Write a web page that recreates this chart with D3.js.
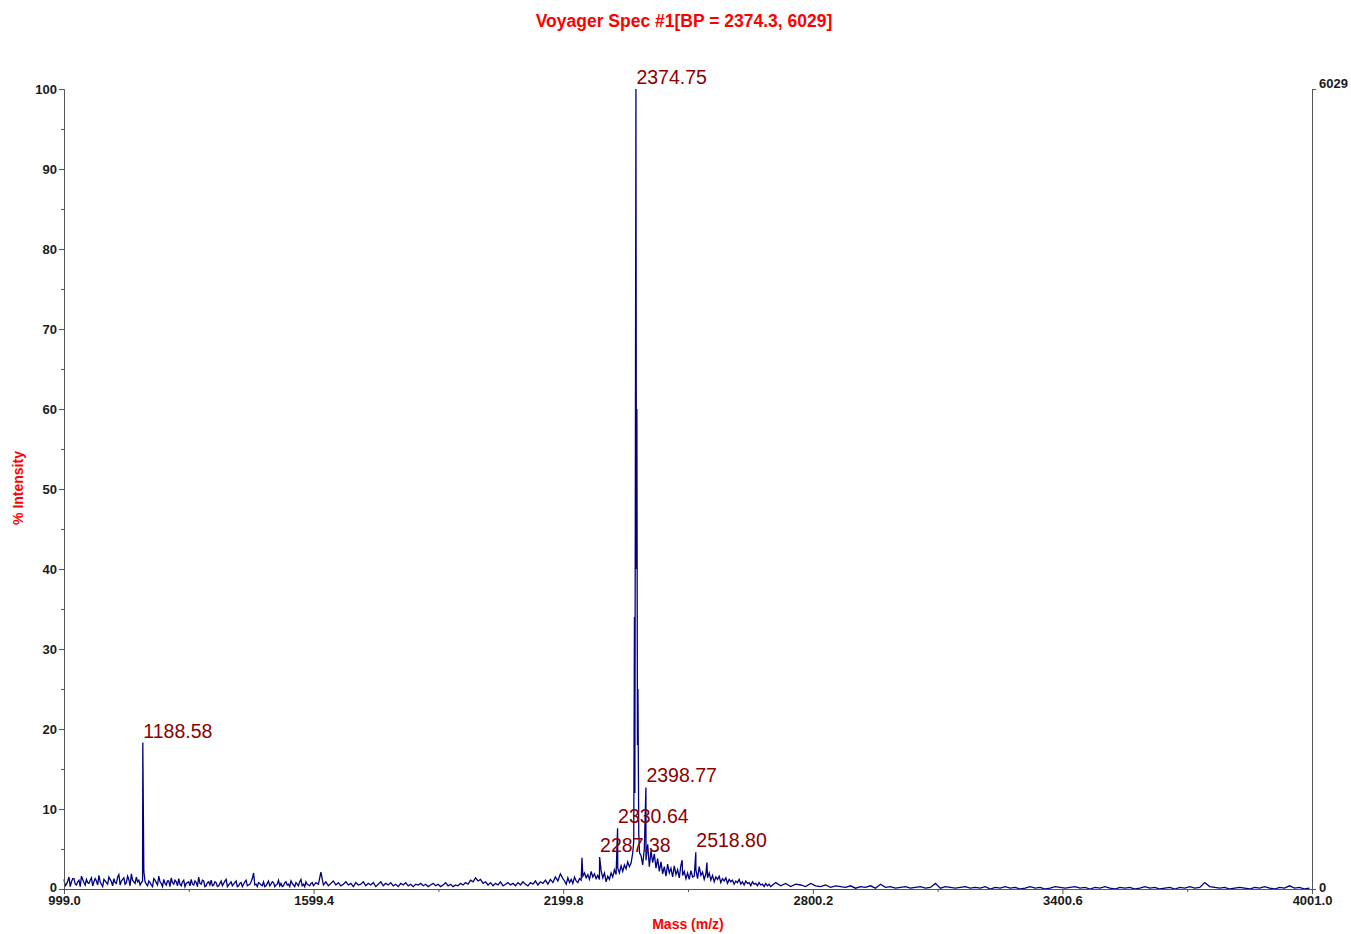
<!DOCTYPE html>
<html>
<head>
<meta charset="utf-8">
<script src="https://cdn.jsdelivr.net/npm/d3@7"></script>
<style>
  body { margin: 0; background: #fff; }
  svg { display: block; font-family: "Liberation Sans", Arial, sans-serif; }
</style>
</head>
<body>
<script>
// title and axis texts
var title = "Voyager Spec #1[BP = 2374.3, 6029]";
var xTitle = "Mass (m/z)";
var yTitle = "% Intensity";

// axis ticks
var xTicks = [999.0, 1599.4, 2199.8, 2800.2, 3400.6, 4001.0];
var xMinorTicks = [1299.2, 1899.6, 2500.0, 3100.4, 3700.8];
var yTicks = [0, 10, 20, 30, 40, 50, 60, 70, 80, 90, 100];
var yMinorTicks = [5, 15, 25, 35, 45, 55, 65, 75, 85, 95];
var countsTicks = [0, 6029];

var noiseAStart = 999, noiseAStep = 6;
var noiseA = [
  1.2, 0.6, 1.5, 0.9, 1.3, 0.5, 1.1, 1.6, 0.8, 1.2,
  0.7, 1.4, 0.9, 1.0, 1.7, 0.6, 1.2, 0.8, 1.5, 0.9,
  1.3, 0.7, 1.8, 1.0, 1.4, 0.8, 1.2, 1.9, 0.9, 1.5,
  1.1, 0.8, 2.2, 0.6, 1.0, 0.5, 1.3, 0.8, 1.6, 0.7,
  1.2, 0.5, 1.0, 1.4, 0.6, 0.9, 1.3, 0.4, 1.1, 0.7,
  0.9, 1.2, 0.5, 0.8, 1.5, 0.6, 1.0, 0.4, 0.9, 1.1,
  0.5, 0.8, 0.4, 1.0, 0.7, 1.2, 0.5, 0.9, 0.6, 1.0,
  0.4, 0.8, 0.6, 1.1, 0.5, 0.9, 2.0, 0.6, 0.8, 0.5,
  0.9, 0.4, 1.0, 0.6, 0.8, 0.5, 1.1, 0.7, 0.4, 0.9,
  0.6, 1.0, 0.5, 0.8, 0.4, 1.2, 0.6, 0.9, 0.5, 0.7,
  0.4, 0.8, 0.6, 2.1, 0.5, 0.9, 0.4, 0.7, 1.0, 0.5,
  0.8, 0.4, 0.6, 0.9, 0.5, 0.7, 0.3, 0.8, 0.5, 0.6,
  0.9, 0.4, 0.7, 0.5, 0.8, 0.3, 0.6, 0.9, 0.4, 0.7,
  0.5, 0.8, 0.4, 0.6, 0.3, 0.7, 0.5, 0.8, 0.4, 0.6,
  0.3, 0.6, 0.5, 0.7, 0.4, 0.6, 0.3, 0.5, 0.7, 0.4,
  0.6, 0.3, 0.5, 0.8, 0.4, 0.6, 0.3, 0.5, 0.4, 0.7,
  0.5, 0.8, 0.6, 1.1, 0.9, 1.4, 1.0, 1.2, 0.7, 0.9,
  0.5, 0.8, 0.4, 0.7, 0.5, 0.9, 0.4, 0.6, 0.8, 0.5,
  0.7, 0.4, 0.8, 0.5, 0.9, 0.6, 0.4, 0.8, 0.6, 1.0,
  0.5, 0.9, 0.7, 1.1, 0.6, 1.2, 0.8, 1.5, 1.0, 1.9, 1.3
];
// in-between samples for the densest part of the baseline
var noiseA2Start = 1002, noiseA2Step = 6;
var noiseA2 = [
  0.4, 1.0, 0.3, 1.3, 0.6, 0.9, 0.3, 1.2, 0.5, 0.8,
  1.1, 0.4, 1.3, 0.5, 0.9, 0.3, 1.0, 0.6, 1.2, 0.4,
  0.8, 1.5, 0.5, 1.2, 0.6, 1.6, 0.4, 1.1, 0.7, 0.9,
  0.5, 1.0, 0.9, 0.4, 0.8, 0.3, 1.1, 0.5, 0.9, 0.3,
  0.7, 1.0, 0.3, 0.8, 1.1, 0.4, 0.6, 0.9, 0.3, 0.8,
  0.4, 0.6, 1.0, 0.3, 0.7, 1.1, 0.3, 0.8, 0.5, 0.4,
  0.9, 0.3, 0.7, 0.4, 1.0, 0.3, 0.7, 0.4, 0.8, 0.3,
  0.7, 0.3, 0.9, 0.4, 0.6, 1.3, 0.5, 0.3, 0.7, 0.4,
  0.3, 0.7, 0.4, 0.9, 0.3, 0.6, 0.4, 0.3, 0.8, 0.5,
  0.3, 0.7, 0.3, 0.6, 0.9, 0.4, 0.3, 0.6, 0.4, 0.8
];
var noiseBStart = 2203, noiseBStep = 4;
var noiseB = [
  1.0, 0.6, 1.4, 0.8, 1.2, 0.7, 1.5, 1.0, 0.8, 1.3,
  1.1, 1.6, 2.0, 1.4, 1.8, 1.2, 2.2, 1.5, 1.9, 1.3,
  1.7, 1.2, 2.3, 1.4, 2.0, 0.9, 1.6, 1.2, 2.0, 1.5,
  2.4, 1.8, 2.6, 2.0, 2.9, 2.2, 3.0, 2.5, 3.4, 2.8,
  3.2, 4.5
];
var noiseCStart = 2387, noiseCStep = 4;
var noiseC = [
  4.2, 3.0, 5.1, 3.6, 5.6, 2.8, 4.8, 3.3, 4.4, 2.6,
  3.8, 2.2, 3.4, 1.9, 2.8, 1.6, 3.1, 2.0, 2.6, 1.5,
  2.9, 1.8, 2.4, 1.4, 3.0, 1.7, 2.2, 1.3, 2.0, 1.2,
  2.3, 1.5, 1.6, 2.4, 1.3, 2.8, 1.7, 2.1, 1.2, 1.9,
  1.4, 2.0, 1.1, 1.7, 0.9, 1.5, 1.2, 1.6, 0.8, 1.3,
  1.0, 1.4, 0.7, 1.2, 0.9, 1.1, 0.6, 1.0, 0.8, 1.2,
  0.6, 0.9, 0.5, 1.0, 0.7, 0.8, 0.4, 0.9, 0.6, 0.7,
  0.4, 0.8, 0.5, 0.6, 0.3, 0.7, 0.4, 0.6, 0.3
];
var noiseDStart = 2711, noiseDStep = 12;
var noiseD = [
  0.8, 0.4, 0.7, 0.3, 0.6, 0.5, 0.3, 0.7, 0.4, 0.3,
  0.5, 0.2, 0.4, 0.3, 0.2, 0.4, 0.1, 0.3, 0.2, 0.4,
  0.1, 0.6, 0.2, 0.3, 0.1, 0.2, 0.3, 0.1, 0.2, 0.3,
  0.1, 0.2, 0.7, 0.1, 0.3, 0.2, 0.1, 0.2, 0.3, 0.1,
  0.2, 0.1, 0.3, 0.0, 0.2, 0.1, 0.3, 0.1, 0.2, 0.0,
  0.1, 0.3, 0.1, 0.2, 0.0, 0.1, 0.3, 0.2, 0.1, 0.2,
  0.3, 0.1, 0.2, 0.0, 0.2, 0.1, 0.3, 0.1, 0.0, 0.2,
  0.1, 0.2, 0.0, 0.1, 0.3, 0.1, 0.2, 0.0, 0.1, 0.2,
  0.0, 0.2, 0.1, 0.3, 0.1, 0.2, 0.8, 0.3, 0.2, 0.1,
  0.2, 0.0, 0.1, 0.2, 0.1, 0.0, 0.2, 0.1, 0.3, 0.1,
  0.0, 0.2, 0.1, 0.4, 0.1, 0.2, 0.0, 0.1
];

// peaks: [m/z, % intensity]
var peaks = [
  [1188.58, 18.3],
  [2245.0, 3.9],
  [2287.38, 4.0],
  [2330.64, 7.6],
  [2369.5, 6.0],
  [2371.2, 34.0],
  [2372.2, 12.0],
  [2374.75, 100.0],
  [2376.0, 40.0],
  [2377.0, 60.0],
  [2378.4, 18.0],
  [2379.6, 25.0],
  [2381.5, 7.0],
  [2383.5, 4.5],
  [2398.77, 12.7],
  [2486.0, 3.6],
  [2518.80, 4.6],
  [2545.5, 3.3]
];
var labeledPeaks = [1188.58, 2287.38, 2330.64, 2374.75, 2398.77, 2518.80];

var W = 1351, H = 934;
var x = d3.scaleLinear().domain([999.0, 4001.0]).range([64, 1312]);
var y = d3.scaleLinear().domain([0, 100]).range([889, 89]);
var yCounts = d3.scaleLinear().domain([0, 6029]).range([889, 89]);

var svg = d3.select("body").append("svg").attr("width", W).attr("height", H);

// assemble the trace
var spectrum = [];
function addNoise(start, step, vals) {
  vals.forEach(function(v, i) { spectrum.push([start + i * step, v]); });
}
addNoise(noiseAStart, noiseAStep, noiseA);
addNoise(noiseA2Start, noiseA2Step, noiseA2);
addNoise(noiseBStart, noiseBStep, noiseB);
addNoise(noiseCStart, noiseCStep, noiseC);
addNoise(noiseDStart, noiseDStep, noiseD);
peaks.forEach(function(p) { spectrum.push(p); });
spectrum.sort(function(a, b) { return a[0] - b[0]; });

var line = d3.line()
  .x(function(d) { return x(d[0]); })
  .y(function(d) { return y(d[1]); });

svg.append("path")
  .datum(spectrum)
  .attr("d", line)
  .attr("fill", "none")
  .attr("stroke", "#000080")
  .attr("stroke-width", 1.3)
  .attr("stroke-linejoin", "miter");

// axes
function styleAxis(g) {
  g.selectAll("path, line").attr("stroke", "#555");
  g.selectAll("text")
    .attr("fill", "#1a1a1a")
    .attr("font-size", "13px")
    .attr("font-weight", "bold")
    .attr("font-family", "Liberation Sans, Arial, sans-serif");
}

var gx = svg.append("g").attr("transform", "translate(0,889)")
  .call(d3.axisBottom(x).tickValues(xTicks).tickFormat(d3.format(".1f"))
    .tickSize(5).tickSizeOuter(0).tickPadding(2));
styleAxis(gx);
var gxm = svg.append("g").attr("transform", "translate(0,889)")
  .call(d3.axisBottom(x).tickValues(xMinorTicks).tickFormat("").tickSize(3).tickSizeOuter(0));
styleAxis(gxm);

var gy = svg.append("g").attr("transform", "translate(64,0)")
  .call(d3.axisLeft(y).tickValues(yTicks).tickFormat(d3.format("d"))
    .tickSize(5).tickSizeOuter(0).tickPadding(2));
styleAxis(gy);
gy.selectAll(".tick text").filter(function(d) { return d === 0; }).attr("dy", "0.2em");
var gym = svg.append("g").attr("transform", "translate(64,0)")
  .call(d3.axisLeft(y).tickValues(yMinorTicks).tickFormat("").tickSize(3).tickSizeOuter(0));
styleAxis(gym);

var gr = svg.append("g").attr("transform", "translate(1312,0)")
  .call(d3.axisRight(yCounts).tickValues(countsTicks).tickFormat(d3.format("d"))
    .tickSize(4).tickSizeOuter(0).tickPadding(3));
styleAxis(gr);
gr.selectAll(".tick text").filter(function(d) { return d === 6029; }).attr("dy", "-0.1em");
gr.selectAll(".tick text").filter(function(d) { return d === 0; }).attr("dy", "0.2em");

// peak labels
var peakMap = new Map(peaks.map(function(p) { return [p[0], p[1]]; }));
svg.append("g").selectAll("text")
  .data(labeledPeaks)
  .enter()
  .append("text")
  .attr("x", function(d) { return x(d) + 0.5; })
  .attr("y", function(d) { return y(peakMap.get(d)) - 5; })
  .attr("fill", "#8b0000")
  .attr("font-size", "19.5px")
  .text(function(d) { return d.toFixed(2); });

// titles
svg.append("text")
  .attr("x", 684).attr("y", 27)
  .attr("text-anchor", "middle")
  .attr("fill", "#ff0000")
  .attr("font-size", "17.5px")
  .attr("font-weight", "bold")
  .text(title);

svg.append("text")
  .attr("x", 688).attr("y", 929)
  .attr("text-anchor", "middle")
  .attr("fill", "#ff0000")
  .attr("font-size", "14px")
  .attr("font-weight", "bold")
  .text(xTitle);

svg.append("text")
  .attr("transform", "translate(23,488) rotate(-90)")
  .attr("text-anchor", "middle")
  .attr("fill", "#ff0000")
  .attr("font-size", "14px")
  .attr("font-weight", "bold")
  .text(yTitle);
</script>
</body>
</html>
